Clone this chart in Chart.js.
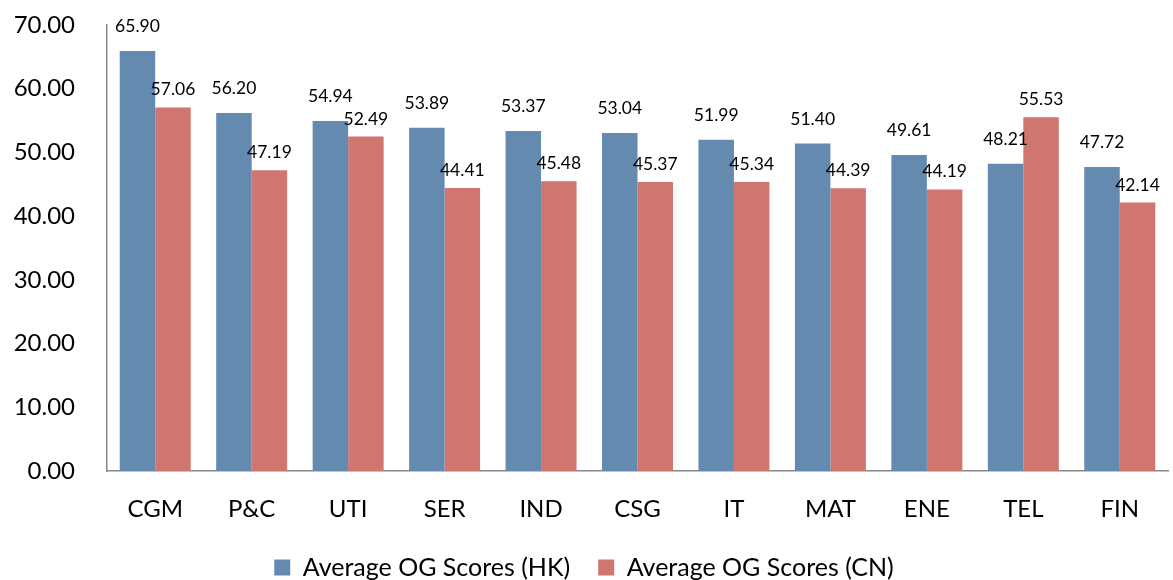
<!DOCTYPE html>
<html>
<head>
<meta charset="utf-8">
<script src="https://cdn.jsdelivr.net/npm/chart.js@4.4.1/dist/chart.umd.min.js"></script>
<style>
  html, body { margin: 0; padding: 0; background: #fff; overflow: hidden; }
  #wrap { width: 1173px; height: 590px; position: relative; }
</style>
</head>
<body>
<div id="wrap"><canvas id="c" width="1173" height="590"></canvas></div>
<script>
const categories = ['CGM', 'P&C', 'UTI', 'SER', 'IND', 'CSG', 'IT', 'MAT', 'ENE', 'TEL', 'FIN'];
const hkScores = [65.90, 56.20, 54.94, 53.89, 53.37, 53.04, 51.99, 51.40, 49.61, 48.21, 47.72];
const cnScores = [57.06, 47.19, 52.49, 44.41, 45.48, 45.37, 45.34, 44.39, 44.19, 55.53, 42.14];
const seriesNames = ['Average OG Scores (HK)', 'Average OG Scores (CN)'];
const yTicks = [0, 10, 20, 30, 40, 50, 60, 70];

const FONT = 'Lato, "Open Sans", sans-serif';

const labelPlugin = {
  id: 'barLabels',
  afterDatasetsDraw(chart) {
    const ctx = chart.ctx;
    ctx.save();
    ctx.font = '17.5px ' + FONT;
    ctx.fillStyle = '#000';
    ctx.textAlign = 'center';
    ctx.textBaseline = 'alphabetic';
    chart.data.datasets.forEach((ds, di) => {
      const meta = chart.getDatasetMeta(di);
      const gap = di === 0 ? 19 : 12;
      meta.data.forEach((el, i) => {
        ctx.fillText(ds.data[i].toFixed(2), el.x, el.y - gap);
      });
    });
    ctx.restore();
  }
};

new Chart(document.getElementById('c'), {
  type: 'bar',
  data: {
    labels: categories,
    datasets: [
      { label: seriesNames[0], data: hkScores, backgroundColor: '#658AB0', categoryPercentage: 0.736, barPercentage: 1.0 },
      { label: seriesNames[1], data: cnScores, backgroundColor: '#CF7670', categoryPercentage: 0.736, barPercentage: 1.0 }
    ]
  },
  options: {
    responsive: false,
    animation: false,
    layout: { padding: { top: 25, right: 5, left: 0, bottom: 0 } },
    plugins: {
      tooltip: { enabled: false },
      legend: {
        position: 'bottom',
        labels: {
          font: { family: FONT, size: 25 },
          color: '#000',
          boxWidth: 16,
          boxHeight: 16,
          padding: 28
        }
      }
    },
    scales: {
      x: {
        grid: { display: false, drawTicks: false },
        border: { display: true, color: '#888', width: 1.5 },
        ticks: { font: { family: FONT, size: 24 }, color: '#000', padding: 24 },
        afterFit(scale) { scale.height = 56; }
      },
      y: {
        min: 0, max: 70,
        grid: { display: false, drawTicks: false },
        border: { display: true, color: '#888', width: 1.5 },
        afterBuildTicks(scale) { scale.ticks = yTicks.map(v => ({ value: v })); },
        ticks: {
          font: { family: FONT, size: 24 },
          color: '#000',
          padding: 32,
          callback: v => Number(v).toFixed(2)
        },
        afterFit(scale) { scale.width = 107; scale.paddingTop = 0; scale.paddingBottom = 0; }
      }
    }
  },
  plugins: [labelPlugin]
});
</script>
</body>
</html>
